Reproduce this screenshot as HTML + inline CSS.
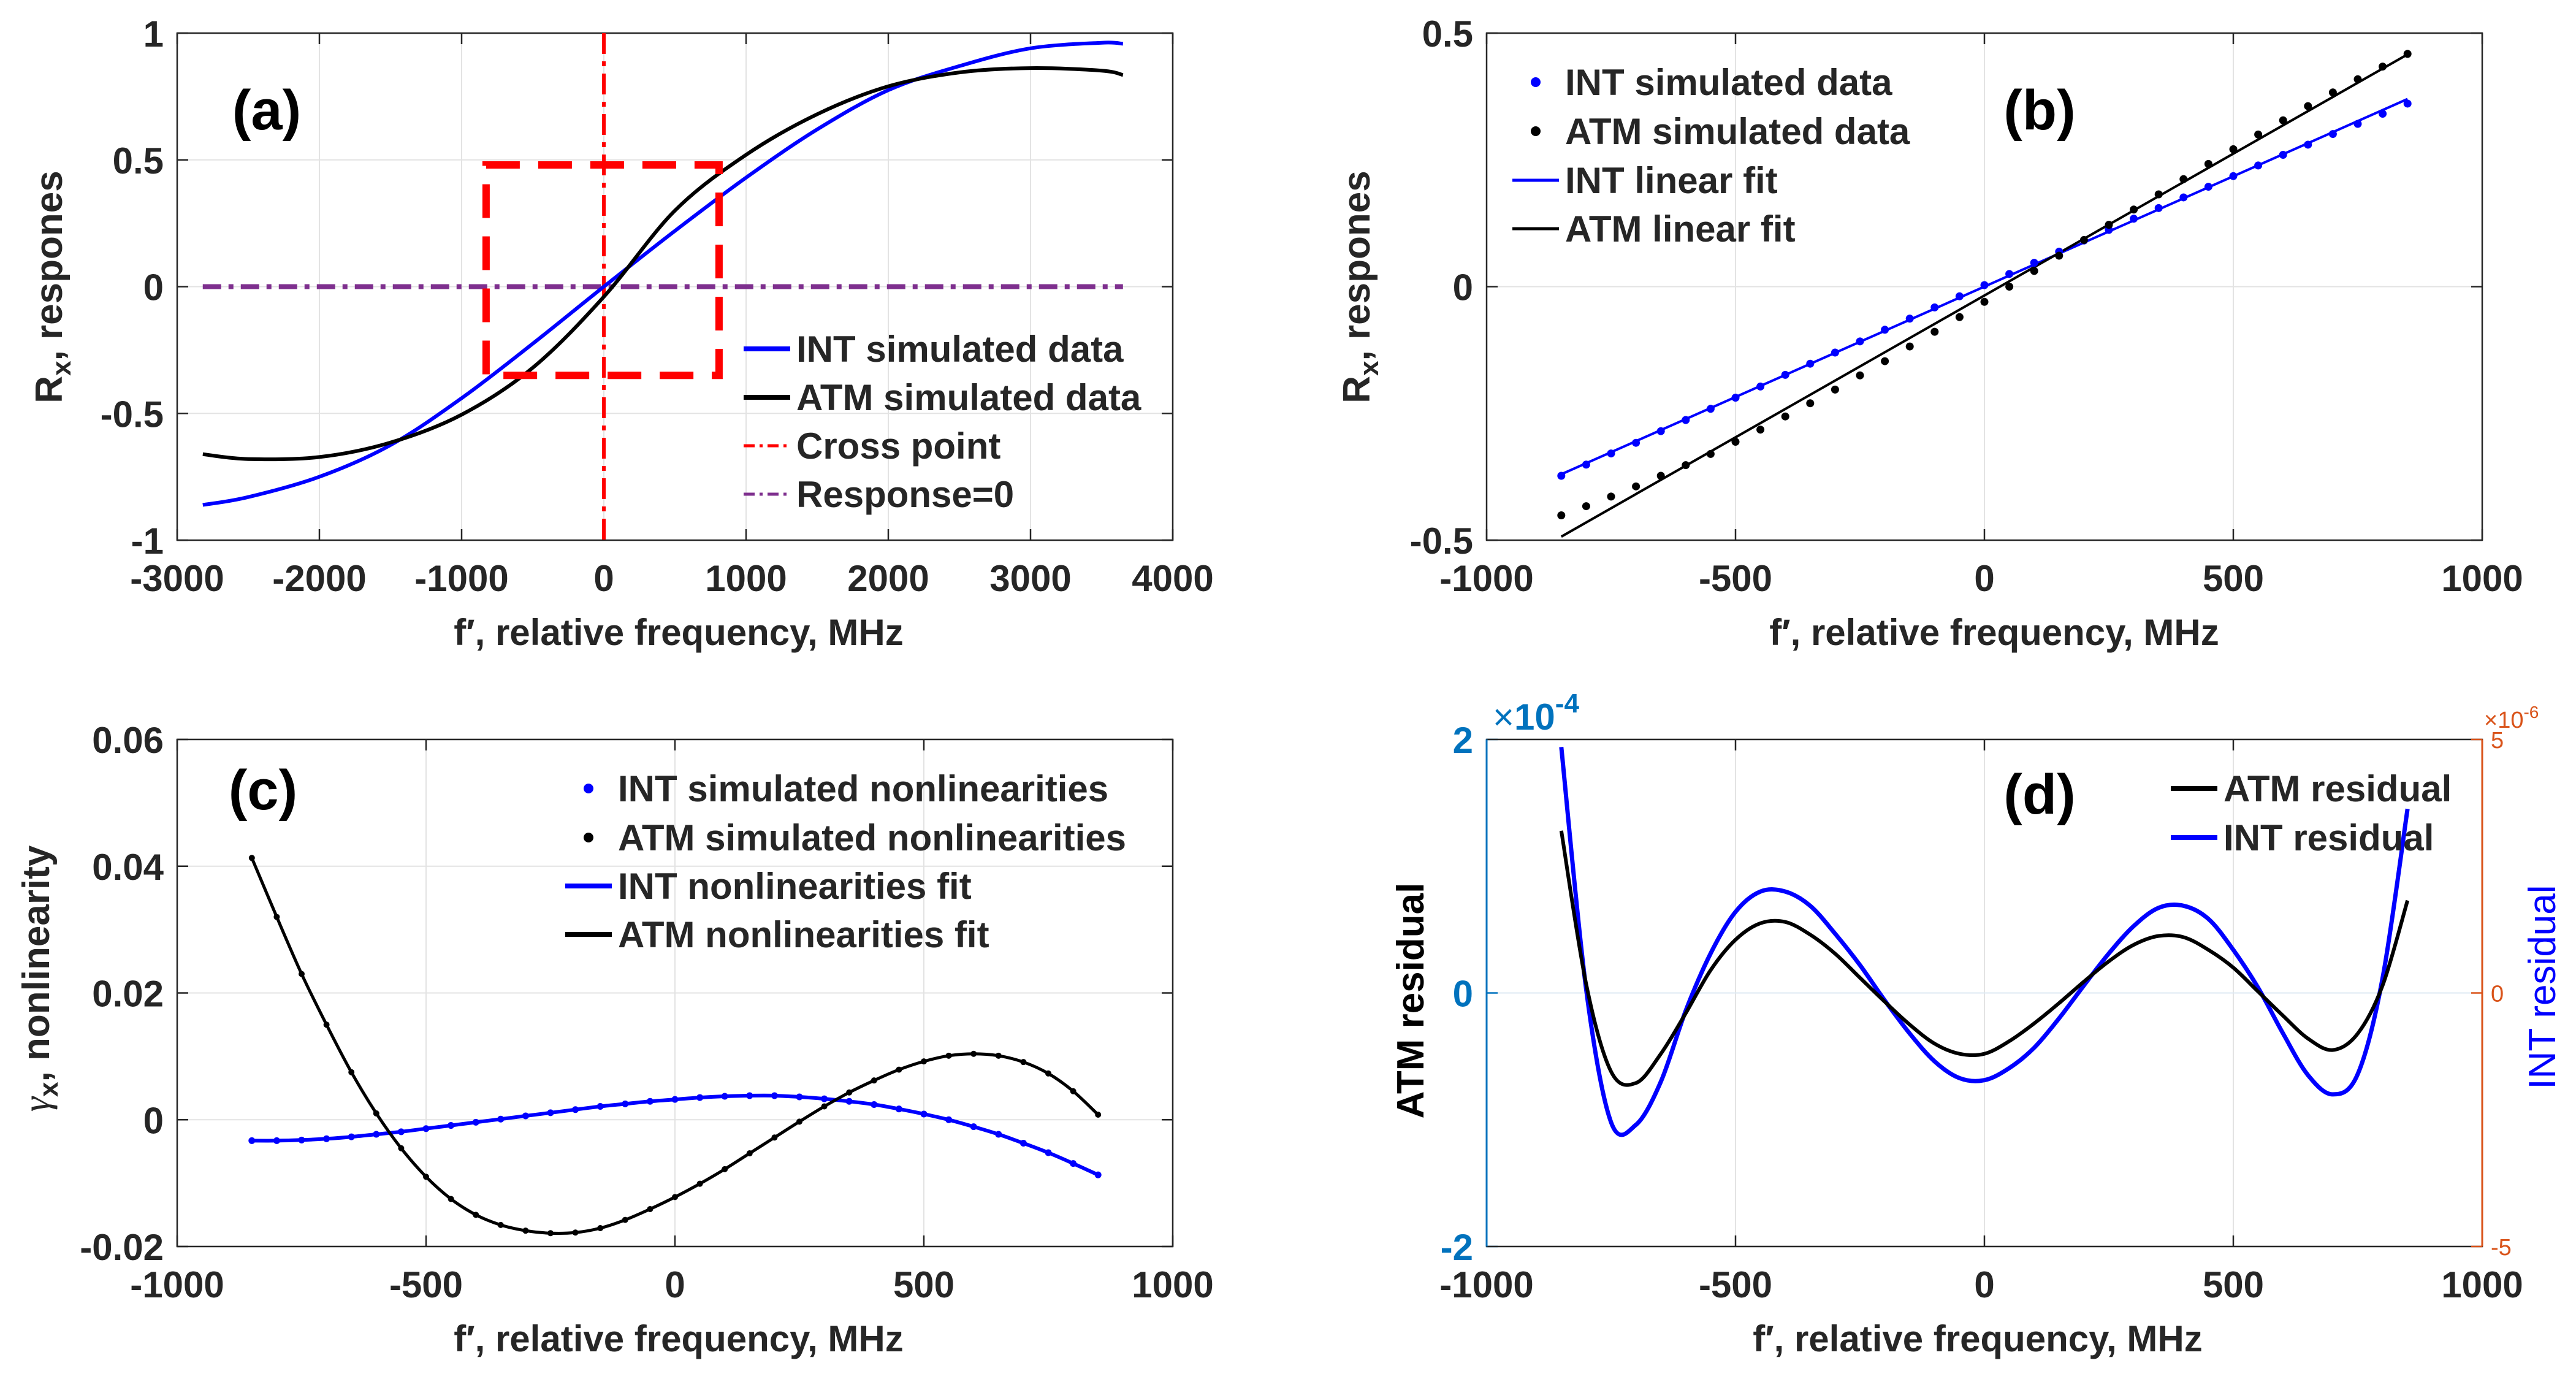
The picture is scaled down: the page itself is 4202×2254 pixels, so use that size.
<!DOCTYPE html>
<html><head><meta charset="utf-8"><style>
html,body{margin:0;padding:0;background:#fff;}
svg{display:block;font-family:"Liberation Sans",Arial,sans-serif;}
</style></head><body>
<svg id="fig" xmlns="http://www.w3.org/2000/svg" width="4202" height="2254" viewBox="0 0 4202 2254">
<rect x="0" y="0" width="4202" height="2254" fill="#fff"/>
</svg>
<script>
// ---------- data ----------
// panel (a)
const aFreq = [-2820,-2500,-2000,-1500,-1000,-500,0,500,1000,1500,2000,2500,3000,3500,3650];
const aInt  = [-0.861,-0.83,-0.75,-0.625,-0.44,-0.225,0.0,0.22,0.43,0.62,0.775,0.87,0.94,0.962,0.958];
const aAtm  = [-0.661,-0.68,-0.672,-0.615,-0.505,-0.32,-0.04,0.30,0.52,0.68,0.79,0.845,0.862,0.852,0.835];
const aBoxX = [-828, 810];
const aBoxY = [-0.35, 0.48];
const aXTicks = [-3000,-2000,-1000,0,1000,2000,3000,4000];
const aYTicks = [-1,-0.5,0,0.5,1];
const aYLabels = ["-1","-0.5","0","0.5","1"];
// shared frequency grid for (b),(c),(d)
const fGrid = [-850,-800,-750,-700,-650,-600,-550,-500,-450,-400,-350,-300,-250,-200,-150,-100,-50,0,50,100,150,200,250,300,350,400,450,500,550,600,650,700,750,800,850];
// panel (b)
const bIntData = [-0.373,-0.351,-0.329,-0.308,-0.285,-0.263,-0.241,-0.219,-0.197,-0.174,-0.152,-0.130,-0.108,-0.085,-0.063,-0.041,-0.019,0.003,0.025,0.047,0.069,0.091,0.112,0.134,0.155,0.176,0.197,0.218,0.239,0.260,0.280,0.301,0.321,0.341,0.361];
const bAtmData = [-0.451,-0.433,-0.414,-0.394,-0.373,-0.352,-0.330,-0.306,-0.282,-0.256,-0.230,-0.203,-0.175,-0.147,-0.118,-0.089,-0.060,-0.030,0.000,0.031,0.061,0.092,0.122,0.152,0.182,0.212,0.242,0.271,0.300,0.328,0.356,0.383,0.409,0.434,0.459];
const bFitX = [-850, 850];
const bIntFit = [-0.370, 0.370];
const bAtmFit = [-0.493, 0.458];
const bXTicks = [-1000,-500,0,500,1000];
const bYTicks = [-0.5,0,0.5];
// panel (c)
const cAtm = [0.0413,0.032,0.023,0.015,0.0075,0.001,-0.0045,-0.009,-0.0125,-0.015,-0.0166,-0.0175,-0.0179,-0.0178,-0.0171,-0.0158,-0.0141,-0.0122,-0.0101,-0.0078,-0.0053,-0.0028,-0.0003,0.0021,0.0043,0.0062,0.0079,0.0092,0.0101,0.0104,0.0101,0.0091,0.0073,0.0045,0.0008];
const cInt = [-0.0033,-0.0033,-0.0032,-0.0030,-0.0027,-0.0023,-0.0019,-0.0014,-0.0009,-0.0004,0.0001,0.0006,0.0011,0.0016,0.0021,0.0025,0.0029,0.0032,0.0035,0.0037,0.0038,0.0038,0.0036,0.0033,0.0029,0.0024,0.0017,0.0009,0.0000,-0.0011,-0.0023,-0.0037,-0.0052,-0.0069,-0.0087];
const cYTicks = [-0.02,0,0.02,0.04,0.06];
const cYLabels = ["-0.02","0","0.02","0.04","0.06"];
// panel (d) (ATM in 1e-4, INT in 1e-6)
const dAtm = [1.28,0.07,-0.62,-0.71,-0.48,-0.16,0.18,0.42,0.55,0.56,0.46,0.31,0.12,-0.07,-0.25,-0.40,-0.48,-0.48,-0.38,-0.24,-0.08,0.09,0.25,0.38,0.45,0.44,0.34,0.20,0.01,-0.18,-0.36,-0.45,-0.32,0.06,0.73];
const dInt = [4.85,0.07,-2.55,-2.6,-1.75,-0.35,0.78,1.6,2.0,2.0,1.72,1.17,0.55,-0.15,-0.8,-1.35,-1.68,-1.72,-1.48,-1.08,-0.5,0.15,0.78,1.32,1.68,1.72,1.46,0.85,0.1,-0.8,-1.62,-2.0,-1.6,0.3,3.63];
const dYTicksL = [-2,0,2];
const dYTicksR = [-5,0,5];

// ---------- helpers ----------
const NS = "http://www.w3.org/2000/svg";
const svg = document.getElementById('fig');
function mk(tag, attrs, parent){
  const e = document.createElementNS(NS, tag);
  for (const k in attrs) e.setAttribute(k, attrs[k]);
  (parent || svg).appendChild(e);
  return e;
}
function txt(parent, x, y, s, size, opts){
  opts = opts || {};
  const t = mk('text', {x:x, y:y, 'font-size':size, 'font-weight':opts.weight||'bold',
    fill:opts.fill||'#262626', 'text-anchor':opts.anchor||'start'}, parent);
  t.textContent = s;
  return t;
}
function scale(d0,d1,r0,r1){ return v => r0 + (v-d0)/(d1-d0)*(r1-r0); }
function pathFrom(xs, ys, sx, sy){
  let d = '';
  for (let i=0;i<xs.length;i++) d += (i?'L':'M') + sx(xs[i]).toFixed(1) + ' ' + sy(ys[i]).toFixed(1);
  return d;
}
function smoothPath(xs, ys, sx, sy){
  const P = xs.map((x,i)=>[sx(x), sy(ys[i])]);
  let d = 'M'+P[0][0].toFixed(1)+' '+P[0][1].toFixed(1);
  for (let i=0;i<P.length-1;i++){
    const p0=P[Math.max(0,i-1)], p1=P[i], p2=P[i+1], p3=P[Math.min(P.length-1,i+2)];
    const c1=[p1[0]+(p2[0]-p0[0])/6, p1[1]+(p2[1]-p0[1])/6];
    const c2=[p2[0]-(p3[0]-p1[0])/6, p2[1]-(p3[1]-p1[1])/6];
    d += 'C'+c1[0].toFixed(1)+' '+c1[1].toFixed(1)+' '+c2[0].toFixed(1)+' '+c2[1].toFixed(1)+' '+p2[0].toFixed(1)+' '+p2[1].toFixed(1);
  }
  return d;
}
function axes(name, box, xd, yd, xt, yt, ytl, opts){
  opts = opts || {};
  const g = mk('g', {});
  
  
  const sx = scale(xd[0], xd[1], box.l, box.r);
  const sy = scale(yd[0], yd[1], box.b, box.t);
  xt.forEach(v => {
    const X = sx(v);
    const gl = mk('line', {x1:X, x2:X, y1:box.t, y2:box.b, stroke:'#e3e3e3', 'stroke-width':2}, g);
    
    
    const tk = mk('path', {d:'M'+X+' '+box.b+'V'+(box.b-18)+'M'+X+' '+box.t+'V'+(box.t+18), stroke:'#262626', 'stroke-width':2.5}, g);
    
    
    const lb = txt(g, X, box.b+83, String(v), 60, {anchor:'middle'});
    
    
  });
  yt.forEach((v,i) => {
    const Y = sy(v);
    const gl = mk('line', {x1:box.l, x2:box.r, y1:Y, y2:Y, stroke:opts.gridY||'#e3e3e3', 'stroke-width':2}, g);
    
    
    const tk = mk('path', {d:'M'+box.l+' '+Y+'H'+(box.l+18), stroke:opts.leftColor||'#262626', 'stroke-width':2.5}, g);
    
    
    if (!opts.noRightTicks){
      const tk2 = mk('path', {d:'M'+box.r+' '+Y+'H'+(box.r-18), stroke:'#262626', 'stroke-width':2.5}, g);
      
      
    }
    const lb = txt(g, box.l-22, Y+22, ytl ? ytl[i] : String(v), 60, {anchor:'end', fill:opts.leftColor||'#262626'});
    
    
  });
  const fr = mk('path', {d:'M'+box.l+' '+box.t+'H'+box.r+'V'+box.b+'H'+box.l+'Z', fill:'none', stroke:'#262626', 'stroke-width':2.5}, g);
  
  
  if (opts.leftColor){
    const la = mk('line', {x1:box.l, x2:box.l, y1:box.t, y2:box.b, stroke:opts.leftColor, 'stroke-width':3}, g);
    
    
  }
  return {g, sx, sy};
}
function clipFor(id, box){
  const cp = mk('clipPath', {id:id});
  mk('rect', {x:box.l, y:box.t, width:box.r-box.l, height:box.b-box.t}, cp);
  return 'url(#'+id+')';
}
function xlabel(g, cx, y){
  const t = mk('text', {x:cx, y:y, 'font-size':60, 'font-weight':'bold', fill:'#262626', 'text-anchor':'middle'}, g);
  t.textContent = "f\u2032, relative frequency, MHz";
  
  
}
function legendRow(g, x, baseY, kind, color, label, dash){
  if (kind === 'dot'){
    const c = mk('circle', {cx:x+38, cy:baseY-21, r:8, fill:color}, g);
    
    
  } else {
    const l = mk('line', {x1:x, x2:x+76, y1:baseY-21, y2:baseY-21, stroke:color, 'stroke-width':kind==='thin'?5:8}, g);
    if (dash) l.setAttribute('stroke-dasharray', dash);
    
    
  }
  const t = txt(g, x+86, baseY, label, 60);
  
  
}

// ---------- panel (a) ----------
const boxA = {l:289, r:1913, t:54, b:881};
const A = axes('panel-a', boxA, [-3000,4000], [-1,1], aXTicks, aYTicks, aYLabels);
const clipA = clipFor('clipA', boxA);
let e;
e = mk('line', {x1:A.sx(0), x2:A.sx(0), y1:boxA.t, y2:boxA.b, stroke:'#ff0000', 'stroke-width':6, 'stroke-dasharray':'34 12 8 12'}, A.g);


e = mk('line', {x1:A.sx(-2820), x2:A.sx(3650), y1:A.sy(0), y2:A.sy(0), stroke:'#7e2f8e', 'stroke-width':8, 'stroke-dasharray':'30 12 8 12'}, A.g);


e = mk('path', {d:smoothPath(aFreq, aInt, A.sx, A.sy), fill:'none', stroke:'#0000ff', 'stroke-width':6, 'clip-path':clipA}, A.g);


e = mk('path', {d:smoothPath(aFreq, aAtm, A.sx, A.sy), fill:'none', stroke:'#000', 'stroke-width':6, 'clip-path':clipA}, A.g);


e = mk('rect', {x:A.sx(aBoxX[0]), y:A.sy(aBoxY[1]), width:A.sx(aBoxX[1])-A.sx(aBoxX[0]), height:A.sy(aBoxY[0])-A.sy(aBoxY[1]), fill:'none', stroke:'#ff0000', 'stroke-width':12, 'stroke-dasharray':'55 30'}, A.g);


e = txt(A.g, 435, 211, '(a)', 92, {anchor:'middle', fill:'#000'});


legendRow(A.g, 1213, 590, 'thick', '#0000ff', 'INT simulated data');
legendRow(A.g, 1213, 669, 'thick', '#000', 'ATM simulated data');
legendRow(A.g, 1213, 748, 'thin', '#ff0000', 'Cross point', '18 8 5 8');
legendRow(A.g, 1213, 827, 'thin', '#7e2f8e', 'Response=0', '18 8 5 8');
xlabel(A.g, 1107, 1052);
e = mk('text', {x:101, y:468, 'font-size':62, 'font-weight':'bold', fill:'#262626', 'text-anchor':'middle', transform:'rotate(-90 101 468)'}, A.g);
e.innerHTML = 'R<tspan font-size="44" dy="14">x</tspan><tspan dy="-14">, respones</tspan>';



// ---------- panel (b) ----------
const boxB = {l:2425, r:4049, t:54, b:881};
const B = axes('panel-b', boxB, [-1000,1000], [-0.5,0.5], bXTicks, bYTicks, ["-0.5","0","0.5"]);
e = mk('path', {d:pathFrom(bFitX, bIntFit, B.sx, B.sy), fill:'none', stroke:'#0000ff', 'stroke-width':4}, B.g);


e = mk('path', {d:pathFrom(bFitX, bAtmFit, B.sx, B.sy), fill:'none', stroke:'#000', 'stroke-width':4}, B.g);


fGrid.forEach((f,i) => {
  const c1 = mk('circle', {cx:B.sx(f), cy:B.sy(bIntData[i]), r:6.5, fill:'#0000ff'}, B.g);
  
  
  const c2 = mk('circle', {cx:B.sx(f), cy:B.sy(bAtmData[i]), r:6.5, fill:'#000'}, B.g);
  
  
});
e = txt(B.g, 3327, 211, '(b)', 92, {anchor:'middle', fill:'#000'});


legendRow(B.g, 2467, 155, 'dot', '#0000ff', 'INT simulated data');
legendRow(B.g, 2467, 235, 'dot', '#000', 'ATM simulated data');
legendRow(B.g, 2467, 315, 'thin', '#0000ff', 'INT linear fit');
legendRow(B.g, 2467, 394, 'thin', '#000', 'ATM linear fit');
xlabel(B.g, 3253, 1052);
e = mk('text', {x:2234, y:468, 'font-size':62, 'font-weight':'bold', fill:'#262626', 'text-anchor':'middle', transform:'rotate(-90 2234 468)'}, B.g);
e.innerHTML = 'R<tspan font-size="44" dy="14">x</tspan><tspan dy="-14">, respones</tspan>';



// ---------- panel (c) ----------
const boxC = {l:289, r:1913, t:1206, b:2033};
const C = axes('panel-c', boxC, [-1000,1000], [-0.02,0.06], bXTicks, cYTicks, cYLabels);
e = mk('path', {d:smoothPath(fGrid, cInt, C.sx, C.sy), fill:'none', stroke:'#0000ff', 'stroke-width':6}, C.g);


e = mk('path', {d:smoothPath(fGrid, cAtm, C.sx, C.sy), fill:'none', stroke:'#000', 'stroke-width':5}, C.g);


fGrid.forEach((f,i) => {
  const c1 = mk('circle', {cx:C.sx(f), cy:C.sy(cInt[i]), r:5.5, fill:'#0000ff'}, C.g);
  
  
  const c2 = mk('circle', {cx:C.sx(f), cy:C.sy(cAtm[i]), r:5, fill:'#000'}, C.g);
  
  
});
e = txt(C.g, 429, 1320, '(c)', 92, {anchor:'middle', fill:'#000'});


legendRow(C.g, 922, 1307, 'dot', '#0000ff', 'INT simulated nonlinearities');
legendRow(C.g, 922, 1387, 'dot', '#000', 'ATM simulated nonlinearities');
legendRow(C.g, 922, 1466, 'thick', '#0000ff', 'INT nonlinearities fit');
legendRow(C.g, 922, 1545, 'thick', '#000', 'ATM nonlinearities fit');
xlabel(C.g, 1107, 2204);
e = mk('text', {x:80, y:1596, 'font-size':62, 'font-weight':'bold', fill:'#262626', 'text-anchor':'middle', transform:'rotate(-90 80 1596)'}, C.g);
e.innerHTML = '<tspan font-weight="normal" font-family="Liberation Serif, serif" font-style="italic">\u03B3</tspan><tspan font-size="44" dy="14">x</tspan><tspan dy="-14">, nonlinearity</tspan>';



// ---------- panel (d) ----------
const boxD = {l:2425, r:4049, t:1206, b:2033};
const D = axes('panel-d', boxD, [-1000,1000], [-2,2], bXTicks, dYTicksL, ["-2","0","2"], {leftColor:'#0072bd', noRightTicks:true, gridY:'#dde8f3'});
const syR = scale(-5, 5, boxD.b, boxD.t);
e = mk('line', {x1:boxD.r, x2:boxD.r, y1:boxD.t, y2:boxD.b, stroke:'#d95319', 'stroke-width':3}, D.g);


dYTicksR.forEach(v => {
  const Y = syR(v);
  const tk = mk('path', {d:'M'+boxD.r+' '+Y+'H'+(boxD.r-18), stroke:'#d95319', 'stroke-width':2.5}, D.g);
  
  
  const lb = txt(D.g, boxD.r+14, Y+14, String(v), 38, {weight:'normal', fill:'#d95319'});
  
  
});
const clipD = clipFor('clipD', boxD);
e = mk('path', {d:smoothPath(fGrid, dInt, D.sx, syR), fill:'none', stroke:'#0000ff', 'stroke-width':7, 'clip-path':clipD}, D.g);


e = mk('path', {d:smoothPath(fGrid, dAtm, D.sx, D.sy), fill:'none', stroke:'#000', 'stroke-width':6, 'clip-path':clipD}, D.g);


e = txt(D.g, 3327, 1327, '(d)', 92, {anchor:'middle', fill:'#000'});


legendRow(D.g, 3541, 1307, 'thick', '#000', 'ATM residual');
legendRow(D.g, 3541, 1387, 'thick', '#0000ff', 'INT residual');
xlabel(D.g, 3226, 2204);
e = mk('text', {x:2322, y:1632, 'font-size':62, 'font-weight':'bold', fill:'#000', 'text-anchor':'middle', transform:'rotate(-90 2322 1632)'}, D.g);
e.textContent = 'ATM residual';


e = mk('text', {x:4168, y:1610, 'font-size':62, 'font-weight':'normal', fill:'#0000ff', 'text-anchor':'middle', transform:'rotate(-90 4168 1610)'}, D.g);
e.textContent = 'INT residual';


e = mk('text', {x:2435, y:1190, 'font-size':60, 'font-weight':'bold', fill:'#0072bd'}, D.g);
e.innerHTML = '<tspan font-weight="normal">\u00D7</tspan>10<tspan font-size="44" dy="-28">-4</tspan>';


e = mk('text', {x:4052, y:1187, 'font-size':38, 'font-weight':'normal', fill:'#d95319'}, D.g);
e.innerHTML = '\u00D710<tspan font-size="28" dy="-16">-6</tspan>';


</script>
</body></html>
